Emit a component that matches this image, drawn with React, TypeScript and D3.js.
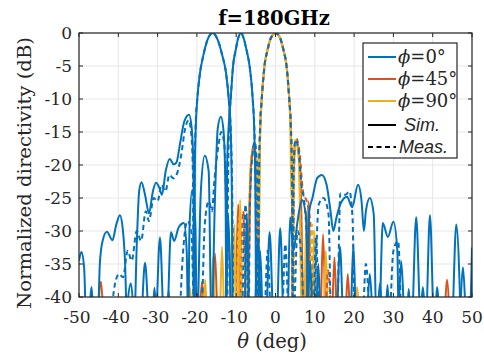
import * as d3 from 'd3';
import * as React from 'react';

type Pt = [number, number];

const thetaTicks = [-50, -40, -30, -20, -10, 0, 10, 20, 30, 40, 50];
const dbTicks = [0, -5, -10, -15, -20, -25, -30, -35, -40];
const legendLabels = ['0°', '45°', '90°'];

// phi = 0, beam steered to -16 deg (sim)
const phi0SimA: Pt[] = [
  [-50, -34.5], [-49.4, -33.2], [-48.7, -35.5], [-48.1, -45],
  [-45.3, -45], [-44.7, -35], [-44, -31.5], [-42.9, -30.1], [-41.5, -31.4], [-40.5, -29], [-39.6, -27.6], [-38.9, -29.5], [-38.3, -34.5], [-37.7, -45],
  [-36, -45], [-35.3, -32], [-34.7, -24], [-34.1, -22.6], [-33.2, -24.5], [-32.2, -27.3], [-31.2, -24], [-30.4, -22.7], [-29.6, -23.4], [-28.9, -24.5],
  [-27.9, -20.8], [-26.9, -19.1], [-25.9, -19.9], [-25.2, -19.6], [-24.3, -16.8], [-23.2, -13.4], [-22, -12.4], [-21.3, -14.6], [-20.9, -20], [-20.7, -45],
  [-20.5, -20], [-20.2, -13], [-19.9, -10], [-19.2, -6], [-18.4, -3.5], [-17.4, -1.2], [-16, 0], [-14.6, -1.2], [-13.5, -3.5], [-12.6, -6],
  [-11.9, -10], [-11.4, -15], [-11.1, -25], [-10.9, -45],
  [-5.5, -45], [-4.5, -31.5], [-3.4, -45], [-2.5, -45], [-1.5, -30.2], [-0.4, -45], [0.2, -45], [1.2, -29.6], [2.2, -45],
  [8, -45], [8.8, -34.5], [9.6, -45], [15.4, -45], [16.4, -32.4], [17.4, -45], [25.6, -45], [26.6, -37.9], [27.4, -45],
  [31, -45], [32, -34.6], [33, -45], [36.6, -45], [37.5, -38.5], [38.4, -45], [46.6, -45], [47.7, -35.5], [48.7, -45], [49.3, -45], [50, -32.5],
];

// phi = 0, beam steered to -9 deg (sim)
const phi0SimB: Pt[] = [
  [-38.2, -45], [-36.8, -37.9], [-35.6, -45],
  [-34.4, -45], [-33.2, -34.8], [-32, -45],
  [-30.6, -45], [-29.4, -31], [-28.3, -45],
  [-27.7, -45], [-26.6, -30.2], [-25.8, -31.5], [-24.6, -29.4], [-23.3, -28.8], [-22.6, -33], [-22.2, -45],
  [-21.9, -30], [-21.2, -23.8], [-20.4, -29], [-20, -45],
  [-19, -24], [-18, -18.6], [-17, -21], [-16.3, -45],
  [-15.4, -25], [-14.7, -14.5], [-13.9, -12.7], [-13.2, -15], [-12.7, -25], [-12.5, -45],
  [-12.3, -20], [-11.9, -14], [-11.4, -10], [-10.8, -5], [-10.1, -2.5], [-9.5, -0.8], [-8.8, 0], [-8.1, -0.8], [-7.4, -2.5], [-6.6, -5],
  [-5.8, -10], [-5.4, -15], [-5.1, -25], [-4.9, -45],
  [-4.7, -45], [-3.9, -33], [-3.1, -45],
  [3, -45], [3.7, -27.9], [4.6, -33], [5.5, -29], [6.7, -25.3], [7.8, -28], [8.5, -45],
  [10.2, -45], [10.9, -35], [11.6, -45], [19, -45], [19.8, -32], [20.6, -45], [23, -45], [24, -36.5], [25, -45],
  [27.8, -45], [28.5, -38.2], [29.2, -45], [33.2, -45], [33.9, -38.8], [34.6, -45], [40.4, -45], [41.1, -38.5], [41.8, -45],
];

// phi = 0, beam at 0 deg (sim), main lobe under the other cuts
const phi0SimC: Pt[] = [
  [-47.5, -45], [-46.8, -38.5], [-46.1, -45], [-31.5, -45], [-30.8, -38.6], [-30.1, -45], [-27.8, -45], [-27.2, -39], [-26.6, -45],
  [-12.8, -45], [-12, -27.6], [-11.2, -45],
  [-8, -45], [-7.3, -27.3], [-6.6, -45],
  [7.8, -45], [8.6, -27], [9.4, -25], [10.6, -22], [11.8, -21.5], [13, -23], [14, -27], [14.7, -30], [15.5, -28], [16.6, -25.8],
  [18.2, -24.8], [19.5, -26.4], [21, -23], [21.9, -25.5], [22.5, -30], [23, -27], [24, -25], [25, -27.5], [25.7, -45],
  [26.3, -45], [27.3, -28.8], [28.6, -30.9], [30, -28.6], [31, -33], [31.4, -45],
  [34.6, -45], [35.8, -27.9], [37, -45], [38.2, -45], [39.3, -27.6], [40.4, -45],
  [44.8, -45], [46, -29], [47.2, -45],
];

const phi0MeasA: Pt[] = [
  [-42.2, -45], [-40.8, -37.9], [-39.8, -36.5], [-38.8, -37], [-37.6, -33], [-36.6, -34.5], [-35.3, -30], [-34.2, -31.5], [-33, -27], [-32.2, -28.5],
  [-31, -25], [-30, -25.5], [-29, -23], [-28, -24], [-27, -21.5], [-26, -22], [-25, -21.2], [-24, -18.5], [-23, -14.5], [-22.1, -13.2],
  [-21.4, -15.5], [-21, -22], [-20.8, -45],
  [-20.6, -22], [-20.3, -13.5], [-19.9, -10], [-19.2, -6], [-18.4, -3.5], [-17.4, -1.2], [-16, 0], [-14.6, -1.2], [-13.5, -3.5], [-12.6, -6],
  [-11.9, -10], [-11.3, -16], [-10.9, -30], [-10.7, -45],
  [9.5, -45], [11, -26], [12.2, -25], [13.5, -27.5], [14.2, -45], [15.6, -45], [16.5, -24.3], [17.8, -24.5], [18.8, -24], [19.6, -28], [20.2, -45],
  [28.8, -45], [30, -33], [31.2, -31.5], [32, -45],
];

const phi0MeasB: Pt[] = [
  [-24.5, -45], [-23.5, -33], [-22.4, -28.5], [-21.4, -30], [-20.6, -45],
  [-19, -45], [-18, -29], [-17, -25.5], [-16.2, -27], [-15.5, -22], [-14.5, -17], [-13.8, -15], [-13, -17], [-12.5, -30], [-12.3, -45],
  [-12.1, -25], [-11.8, -14], [-11.4, -10], [-10.8, -5], [-10.1, -2.5], [-9.5, -0.8], [-8.8, 0], [-8.1, -0.8], [-7.4, -2.5], [-6.6, -5],
  [-5.8, -10], [-5.3, -16], [-5, -28], [-4.8, -45],
  [-3, -45], [-2, -33], [-1, -45], [1.5, -45], [2.5, -32], [3.5, -45],
  [4.5, -45], [5.6, -30], [6.6, -34], [7.4, -45], [22, -45], [23, -35], [24, -45],
];

const phi0MeasC: Pt[] = [
  [-8.5, -45], [-7.6, -26], [-6.8, -45],
  [-6.6, -28], [-5.9, -18.5], [-5.3, -16.5], [-4.7, -20], [-4.4, -45],
  [-4.2, -22], [-3.9, -14], [-3.5, -10], [-2.8, -5], [-2, -2.5], [-1.2, -0.8], [0, 0], [1.2, -0.8], [2, -2.5], [2.8, -5], [3.5, -10],
  [3.9, -14], [4.2, -22], [4.4, -45],
  [4.6, -20], [5.1, -16.2], [5.8, -17.5], [6.6, -23], [7.4, -26], [8, -32], [8.5, -45], [9.5, -45], [10.3, -31], [11, -45],
];

const phi45Sim: Pt[] = [
  [-45.3, -45], [-44.4, -37.7], [-43.5, -45],
  [-21.4, -45], [-20.6, -38.5], [-19.8, -45],
  [-19.6, -45], [-18.7, -37.7], [-17.8, -45],
  [-16.2, -45], [-15.4, -33.4], [-14.6, -45],
  [-12.9, -45], [-12, -29.4], [-11.1, -45],
  [-10.3, -45], [-9.5, -26], [-8.6, -45],
  [-7.2, -45], [-6.2, -20], [-5.3, -17.5], [-4.6, -22], [-4.3, -45],
  [-4.2, -25], [-3.9, -15], [-3.5, -10], [-2.8, -5], [-2, -2.5], [-1.2, -0.8], [0, 0], [1.2, -0.8], [2, -2.5], [2.8, -5], [3.5, -10],
  [3.9, -15], [4.2, -25], [4.3, -45],
  [4.6, -21], [5.2, -16.5], [6.2, -19.5], [7.3, -45],
  [7.6, -45], [8.4, -25.5], [9.2, -45],
  [11.3, -45], [12.1, -30.5], [12.9, -45],
  [14.2, -45], [15, -34], [15.8, -45],
  [17.6, -45], [18.4, -36.5], [19.2, -45],
  [42.8, -45], [43.6, -37.4], [44.4, -45],
];

const phi45Meas: Pt[] = [
  [-9, -45], [-8.2, -27], [-7.4, -45],
  [-6.8, -30], [-6.1, -19], [-5.4, -16.8], [-4.8, -20], [-4.4, -45],
  [-4.2, -22], [-3.9, -14], [-3.5, -10], [-2.8, -5], [-2, -2.5], [-1.2, -0.8], [0, 0], [1.2, -0.8], [2, -2.5], [2.8, -5], [3.5, -10],
  [3.9, -14], [4.2, -22], [4.5, -45],
  [4.8, -19], [5.3, -16], [6.1, -18], [7, -24], [8.2, -26], [9, -30], [9.6, -45],
  [12.5, -45], [13.4, -36], [14.2, -45],
];

const phi90Sim: Pt[] = [
  [-22.6, -45], [-21.8, -38.5], [-21, -45],
  [-18.6, -45], [-17.9, -37.4], [-17.2, -45],
  [-16.6, -45], [-15.9, -34], [-15.2, -45],
  [-14.3, -45], [-13.6, -32.4], [-12.9, -45],
  [-11, -45], [-10.5, -29], [-10, -45],
  [-9.7, -45], [-9, -25.3], [-8.3, -45],
  [-7.4, -45], [-6.2, -19], [-5.3, -17.3], [-4.6, -21], [-4.1, -28],
  [-3.9, -15], [-3.5, -10], [-2.8, -5], [-2, -2.5], [-1.2, -0.8], [0, 0], [1.2, -0.8], [2, -2.5], [2.8, -5], [3.5, -10],
  [3.8, -15], [4, -25],
  [4.4, -20], [5, -16.2], [5.9, -19], [6.8, -45],
  [7.2, -45], [7.9, -27], [8.6, -45],
  [9.2, -45], [9.9, -30], [10.6, -45],
  [12.1, -45], [12.8, -33], [13.5, -45],
  [19.9, -45], [20.7, -38.5], [21.5, -45],
];

const phi90Meas: Pt[] = [
  [-10, -45], [-9.2, -28], [-8.4, -45],
  [-7, -29], [-6.2, -19.5], [-5.4, -17], [-4.8, -20.5], [-4.4, -45],
  [-4.2, -22], [-3.9, -14], [-3.5, -10], [-2.8, -5], [-2, -2.5], [-1.2, -0.8], [0, 0], [1.2, -0.8], [2, -2.5], [2.8, -5], [3.5, -10],
  [3.9, -14], [4.2, -22], [4.5, -45],
  [4.8, -19.5], [5.2, -16.4], [6, -18.5], [6.8, -45],
  [8.5, -45], [9.3, -29], [10.1, -45],
];

const BLUE = '#0072BD';
const ORANGE = '#D95319';
const YELLOW = '#EDB120';
const DASH = '5,3.5';

const series = [
  { data: phi45Sim, color: ORANGE, dash: null },
  { data: phi90Sim, color: YELLOW, dash: null },
  { data: phi45Meas, color: ORANGE, dash: DASH },
  { data: phi90Meas, color: YELLOW, dash: DASH },
  { data: phi0SimA, color: BLUE, dash: null },
  { data: phi0SimB, color: BLUE, dash: null },
  { data: phi0SimC, color: BLUE, dash: null },
  { data: phi0MeasA, color: BLUE, dash: DASH },
  { data: phi0MeasB, color: BLUE, dash: DASH },
  { data: phi0MeasC, color: BLUE, dash: DASH },
];

const SERIF = '"DejaVu Serif", serif';
const SANS = '"Liberation Sans", Arial, sans-serif';

const App = () => {
  const left = 79, right = 472, top = 33, bottom = 297;
  const x = d3.scaleLinear().domain([-50, 50]).range([left, right]);
  const y = d3.scaleLinear().domain([-40, 0]).range([bottom, top]);
  const line = d3.line<Pt>().x((d) => x(d[0])).y((d) => y(d[1])).curve(d3.curveMonotoneX);

  const legendColors = [BLUE, ORANGE, YELLOW];
  const lx = 363, ly = 43;
  const rowY = [57, 79, 101, 125, 147];

  return (
    <svg width={484} height={356} style={{ position: 'absolute', left: 0, top: 0, background: '#fff' }}>
      <defs>
        <clipPath id="plot">
          <rect x={left} y={top} width={right - left} height={bottom - top} />
        </clipPath>
      </defs>
      <rect x={left} y={top} width={right - left} height={bottom - top} fill="#fff" />
      {thetaTicks.map((t) => (
        <line key={'gx' + t} x1={x(t)} x2={x(t)} y1={top} y2={bottom} stroke="#e6e6e6" strokeWidth={1} />
      ))}
      {dbTicks.map((t) => (
        <line key={'gy' + t} x1={left} x2={right} y1={y(t)} y2={y(t)} stroke="#e6e6e6" strokeWidth={1} />
      ))}
      <g clipPath="url(#plot)">
        {series.map((s, i) => (
          <path key={i} d={line(s.data) || ''} fill="none" stroke={s.color} strokeWidth={2}
            strokeDasharray={s.dash || undefined} strokeLinejoin="round" />
        ))}
      </g>
      {thetaTicks.map((t) => (
        <g key={'tx' + t}>
          <line x1={x(t)} x2={x(t)} y1={bottom} y2={bottom - 4} stroke="#262626" />
          <line x1={x(t)} x2={x(t)} y1={top} y2={top + 4} stroke="#262626" />
          <text x={x(t) + (t < 0 ? -2 : 0)} y={323} textAnchor="middle" fontFamily={SERIF} fontSize={17} fill="#262626">{t}</text>
        </g>
      ))}
      {dbTicks.map((t) => (
        <g key={'ty' + t}>
          <line x1={left} x2={left + 4} y1={y(t)} y2={y(t)} stroke="#262626" />
          <line x1={right} x2={right - 4} y1={y(t)} y2={y(t)} stroke="#262626" />
          <text x={72} y={y(t)} dy="0.36em" textAnchor="end" fontFamily={SERIF} fontSize={17} fill="#262626">{t}</text>
        </g>
      ))}
      <rect x={left} y={top} width={right - left} height={bottom - top} fill="none" stroke="#262626" strokeWidth={1.2} />
      <text x={274} y={25} textAnchor="middle" fontFamily={SERIF} fontWeight="bold" fontSize={19.5} fill="#000">f=180GHz</text>
      <text x={272} y={348} textAnchor="middle" fontFamily={SERIF} fontSize={19.5} fill="#262626">
        <tspan fontStyle="italic">θ</tspan> (deg)
      </text>
      <text transform="translate(31,173) rotate(-90)" textAnchor="middle" fontFamily={SERIF} fontSize={18.5}
        textLength={272} lengthAdjust="spacingAndGlyphs" fill="#262626">
        Normalized directivity (dB)
      </text>
      <g>
        <rect x={lx} y={ly} width={94} height={115} fill="#fff" stroke="#262626" strokeWidth={1.2} />
        {legendLabels.map((lab, i) => (
          <g key={lab}>
            <line x1={368} x2={396} y1={rowY[i]} y2={rowY[i]} stroke={legendColors[i]} strokeWidth={2} />
            <text x={398} y={rowY[i]} dy="0.36em" fontFamily={SERIF} fontSize={18} fill="#262626">
              <tspan fontStyle="italic">ϕ</tspan>={lab}
            </text>
          </g>
        ))}
        <line x1={368} x2={396} y1={rowY[3]} y2={rowY[3]} stroke="#000" strokeWidth={2} />
        <text x={404} y={rowY[3]} dy="0.36em" fontFamily={SANS} fontStyle="italic" fontSize={18} fill="#262626">Sim.</text>
        <line x1={368} x2={396} y1={rowY[4]} y2={rowY[4]} stroke="#000" strokeWidth={2} strokeDasharray={DASH} />
        <text x={399} y={rowY[4]} dy="0.36em" fontFamily={SANS} fontStyle="italic" fontSize={18} fill="#262626">Meas.</text>
      </g>
    </svg>
  );
};

export default App;
